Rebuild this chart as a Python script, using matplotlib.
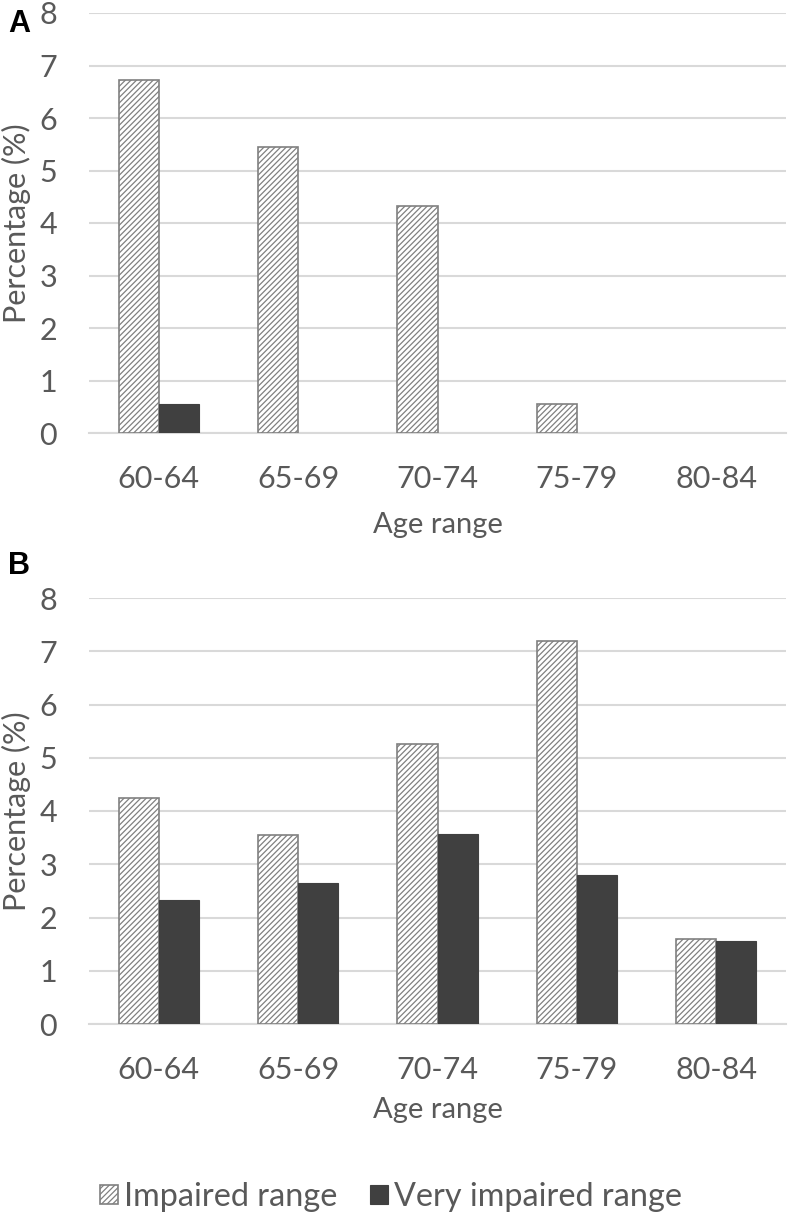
import matplotlib
matplotlib.use("Agg")
import matplotlib.pyplot as plt
import numpy as np

plt.rcParams['font.family'] = ['Lato', 'DejaVu Sans']
plt.rcParams['hatch.color'] = '#808080'
plt.rcParams['hatch.linewidth'] = 0.9

# data
ages = ['60-64', '65-69', '70-74', '75-79', '80-84']
impaired_a = [6.73, 5.45, 4.33, 0.55, 0.0]
very_impaired_a = [0.56, 0.0, 0.0, 0.0, 0.0]
impaired_b = [4.25, 3.55, 5.26, 7.2, 1.59]
very_impaired_b = [2.32, 2.65, 3.57, 2.79, 1.55]

txt_col = '#595959'
grid_col = '#d9d9d9'
dark = '#404040'
edge = '#808080'

W, H = 788, 1217
fig = plt.figure(figsize=(W/100, H/100), dpi=100)

def ax_rect(x0, y0, x1, y1):
    # pixel box -> figure fraction
    return [x0/W, 1 - y1/H, (x1 - x0)/W, (y1 - y0)/H]

ax_a = fig.add_axes(ax_rect(89, 13, 786, 433))
ax_b = fig.add_axes(ax_rect(89, 598, 786, 1024))

w = 0.287
x = np.arange(len(ages))

def draw(ax, imp, vimp, xlab_y):
    lw1 = [1.2 if v > 0 else 0 for v in imp]
    lw2 = [0.8 if v > 0 else 0 for v in vimp]
    b1 = ax.bar(x - w/2, imp, w, color='white', edgecolor=edge,
                hatch='//////', linewidth=lw1, label='Impaired range', zorder=3)
    b2 = ax.bar(x + w/2, vimp, w, color=dark, edgecolor=dark,
                linewidth=lw2, label='Very impaired range', zorder=3)
    ax.set_ylim(0, 8)
    ax.set_xlim(-0.5, len(ages) - 0.5)
    ax.set_yticks(range(0, 9))
    ax.set_xticks(x)
    ax.set_xticklabels(ages)
    ax.yaxis.grid(True, color=grid_col, linewidth=1.5, zorder=0)
    ax.set_axisbelow(True)
    for s in ['top', 'right', 'left']:
        ax.spines[s].set_visible(False)
    ax.spines['bottom'].set_color(grid_col)
    ax.spines['bottom'].set_linewidth(1.5)
    ax.tick_params(length=0, labelsize=22, colors=txt_col)
    ax.tick_params(axis='x', pad=23)
    ax.tick_params(axis='y', pad=23)
    ax.set_xlabel('Age range', fontsize=21, color=txt_col)
    ax.xaxis.set_label_coords(0.5, xlab_y)
    ax.xaxis.label.set_va('center')
    ax.set_ylabel('Percentage (%)', fontsize=22, color=txt_col)
    ax.yaxis.set_label_coords(-0.104, 0.5)
    ax.yaxis.label.set_va('center')
    return b1, b2

draw(ax_a, impaired_a, very_impaired_a, -92/420)
b1, b2 = draw(ax_b, impaired_b, very_impaired_b, -86/426)

fig.text(8/W, 1 - 24/H, 'A', fontsize=22, fontweight='bold',
         family='Liberation Sans', va='center', ha='left')
fig.text(8/W, 1 - 566/H, 'B', fontsize=22, fontweight='bold',
         family='Liberation Sans', va='center', ha='left')

leg = fig.legend([b1, b2], ['Impaired range', 'Very impaired range'],
                 loc='center left', bbox_to_anchor=(100/W, 1 - 1197/H),
                 ncol=2, frameon=False, fontsize=23.3, handlelength=0.55,
                 handleheight=0.55, handletextpad=0.2, columnspacing=1.0,
                 borderpad=0, borderaxespad=0)
for t in leg.get_texts():
    t.set_color(txt_col)

fig.savefig('out.png', dpi=100)
